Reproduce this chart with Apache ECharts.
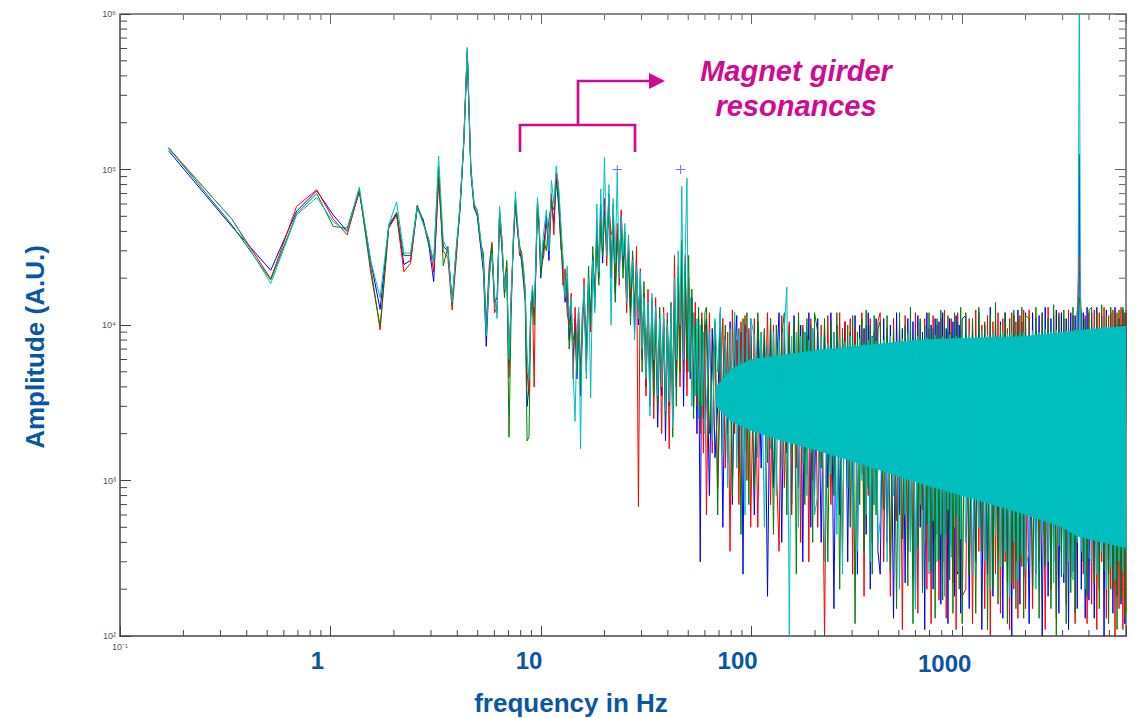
<!DOCTYPE html>
<html>
<head>
<meta charset="utf-8">
<title>Amplitude spectrum – magnet girder resonances</title>
<script src="https://cdn.jsdelivr.net/npm/echarts@6/dist/echarts.min.js"></script>
<style>
  html, body { margin: 0; padding: 0; background: #fff; }
  #chart { width: 1137px; height: 718px; }
</style>
</head>
<body>
<div id="chart"></div>
<script>
// frequency axis (Hz): FFT bins below 10 Hz, thinned out above
const freqLow = [0.17, 0.34, 0.52, 0.69, 0.86, 1.03, 1.2, 1.37, 1.55, 1.72, 1.89, 2.06, 2.23, 2.4, 2.58, 2.75, 2.92, 3.09, 3.26, 3.43,
  3.61, 3.78, 3.95, 4.12, 4.29, 4.46, 4.64, 4.81, 4.98, 5.15, 5.32, 5.49, 5.67, 5.84, 6.01, 6.18, 6.35, 6.52, 6.7, 6.87,
  7.04, 7.21, 7.38, 7.55, 7.73, 7.9, 8.07, 8.24, 8.41, 8.58, 8.76, 8.93, 9.1, 9.27, 9.44, 9.61, 9.79, 9.96]
const freqMid = [10.3, 10.6, 10.9, 11.2, 11.5, 11.8, 12.1, 12.4, 12.7, 13, 13.3, 13.6, 13.9, 14.2, 14.5, 14.8, 15.1, 15.4, 15.7, 16,
  16.4, 16.8, 17.2, 17.6, 18, 18.4, 18.8, 19.2, 19.6, 20, 20.5, 21, 21.5, 22, 22.5, 23, 23.5, 24, 24.5, 25, 25.5, 26,
  26.6, 27.2, 27.8, 28.4, 29, 29.6, 30.2, 30.8, 31.5, 32.2, 32.9, 33.6, 34.3, 35,
  35.8, 36.6, 37.4, 38.2, 39, 39.8, 40.6, 41.4, 42.2, 43, 43.9, 44.8, 45.7, 46.6, 47.5, 48.4, 49.3, 50.2, 51.1, 52,
  53, 54, 55, 56, 57, 58, 59, 60]
const freqHigh = [61, 63, 65, 67, 69, 71, 73, 75, 77, 79, 81, 83, 85, 87, 89, 91, 93, 95, 97, 99,
  103, 107, 111, 115, 119, 123, 127, 131, 135, 139, 143, 147, 151, 155, 159, 163, 167, 171, 175, 179, 183, 187, 191, 195, 199,
  206, 214, 222, 230, 238, 246, 254, 262, 270, 278, 286, 294, 302, 310, 318, 326, 334, 342, 350, 358, 366, 374, 382, 390, 398,
  408, 424, 440, 456, 472, 488, 504, 520, 536, 552, 568, 584, 600, 616, 632, 648, 664, 680, 696, 712, 728, 744, 760, 776, 792,
  808, 824, 840, 856, 872, 888, 904, 920, 936, 952, 968, 984, 1000,
  1040, 1080, 1120, 1160, 1200, 1240, 1280, 1320, 1360, 1400, 1440, 1480, 1520, 1560, 1600, 1640, 1680, 1720, 1760, 1800,
  1840, 1880, 1920, 1960, 2000,
  2080, 2160, 2240, 2320, 2400, 2480, 2560, 2640, 2720, 2800, 2880, 2960, 3040, 3120, 3200, 3280, 3360, 3440, 3520, 3600,
  3680, 3760, 3840, 3920, 4000,
  4120, 4240, 4360, 4480, 4600, 4720, 4840, 4960, 5080, 5200, 5320, 5440, 5560, 5680, 5800, 5920, 6000]

// amplitude (A.U.) per measurement, same three frequency ranges
const blueLow = [1.32e5, 4.3e4, 2.25e4, 5.4e4, 7.3e4, 5.1e4, 4e4, 7.2e4, 2.6e4, 1.26e4,
  4.3e4, 5.2e4, 2.45e4, 2.6e4, 5.6e4, 4.8e4, 3.4e4, 1.9e4, 9e4, 3.2e4,
  3e4, 1.4e4, 2.9e4, 5.6e4, 1.45e5, 5.6e5, 9.5e4, 5.7e4, 5e4, 3.3e4,
  2.2e4, 7.3e3, 2e4, 3e4, 1.4e4, 1.5e4, 4.8e4, 3.3e4, 1.6e4, 2.3e4,
  5.5e3, 1.4e4, 3.4e4, 6e4, 4e4, 3.1e4, 2.6e4, 2e4, 1.5e4, 3e3,
  4e3, 1.2e4, 1.7e4, 1.2e4, 2.2e4, 5.8e4, 4.4e4, 2e4]
const blueMid = [3.2e4, 5e4, 2.6e4, 6.5e4, 4.5e4, 8.8e4, 6e4, 3.5e4, 2.2e4, 1.4e4, 1.9e4, 8e3, 1.3e4, 6e3, 1.1e4, 4.5e3, 9e3, 3.5e3, 1e4, 1.6e4,
  7e3, 1.8e4, 1.2e4, 2.8e4, 1.5e4, 4.5e4, 2e4, 6e4, 2.5e4, 5.5e4,
  3e4, 7e4, 2e4, 5e4, 1.6e4, 4e4, 2.2e4, 4.8e4, 2.4e4, 3.5e4, 1.5e4, 3e4,
  1.2e4, 2.8e4, 9e3, 2.5e4, 1e4, 2e4, 6e3, 1.6e4, 4e3, 1.3e4, 3e3, 1.4e4, 5e3, 1.2e4,
  2.2e3, 1e4, 3.5e3, 1.1e4, 1.8e3, 9.5e3, 3e3, 1.2e4, 2.5e3, 1.5e4,
  4e3, 2e4, 6e3, 3e4, 3e3, 2.2e4, 5e3, 2e4, 4.5e3, 1.5e4,
  3e3, 1.2e4, 2e3, 1.1e4, 300, 1e4, 2.5e3, 9e3]
const blueHigh = [1.1e4, 800, 9.5e3, 1400, 3e3, 1.2e4, 500, 8.5e3, 2000, 1.05e4, 700, 6e3, 1.15e4, 1100, 9e3, 250, 1e4, 1800, 4e3, 1.1e4,
  600, 1.05e4, 1200, 9e3, 180, 1.1e4, 900, 5e3, 1.2e4, 400, 9.5e3, 1500, 1e4, 700, 1.15e4, 3e3, 900, 1e4, 300, 9e3, 1100, 1.2e4, 500, 9.5e3, 800,
  1.1e4, 400, 9.5e3, 900, 1.2e4, 150, 1e4, 600, 4e3, 1.05e4, 300, 9e3, 800, 1.15e4, 250, 1e4, 1100, 9.5e3, 450, 1.2e4, 200, 8.5e3, 700, 1.1e4, 350,
  250, 1.1e4, 400, 1e4, 130, 1.2e4, 600, 9.5e3, 220, 1.1e4, 350, 1.05e4, 150, 1.15e4, 500, 9e3, 110, 1.2e4, 300, 1e4, 200, 1.1e4, 450, 1.05e4, 160,
  1.2e4, 280, 9.5e3, 120, 1.1e4, 380, 1.05e4, 180, 1.15e4, 250, 1e4, 140, 1.1e4,
  1.15e4, 150, 1.05e4, 300, 1.2e4, 110, 1e4, 250, 1.3e4, 180, 1.1e4, 400, 1.05e4, 130, 1.2e4, 220, 1.1e4, 100, 1.15e4, 300,
  1.25e4, 160, 1.05e4, 240, 1.2e4,
  120, 1.2e4, 250, 1.15e4, 100, 1.3e4, 180, 1.1e4, 300, 1.25e4, 140, 1.2e4, 220, 1.1e4, 110, 1.2e4, 260, 1.15e4, 150, 1.25e5,
  200, 1.2e4, 130, 1.3e4, 170,
  1.2e4, 130, 1.3e4, 200, 1.15e4, 100, 1.25e4, 250, 1.2e4, 140, 1.3e4, 180, 1.1e4, 160, 1.25e4, 120, 1.2e4]

const redLow = [1.38e5, 4.8e4, 1.98e4, 5.8e4, 7.4e4, 4.8e4, 3.8e4, 7.3e4, 2.4e4, 9.3e3,
  4.2e4, 5.1e4, 2.2e4, 2.5e4, 5.8e4, 4.6e4, 3.6e4, 2.2e4, 8.5e4, 3e4,
  2.7e4, 1.25e4, 2.6e4, 5.9e4, 1.5e5, 5.9e5, 1.05e5, 5.9e4, 5.4e4, 3.6e4,
  2.6e4, 1e4, 2.4e4, 3.4e4, 1.2e4, 1.3e4, 5.2e4, 3e4, 1.8e4, 2.5e4,
  4.6e3, 1.6e4, 3.2e4, 5.8e4, 4.4e4, 2.8e4, 3e4, 2.3e4, 1.7e4, 5e3,
  3.6e3, 1.4e4, 1.5e4, 4e3, 2.6e4, 6.2e4, 4e4, 2.3e4]
const redMid = [2.8e4, 4.5e4, 3.5e4, 7e4, 3.8e4, 9.5e4, 7.5e4, 4.2e4, 1.8e4, 2.3e4, 1.2e4, 1e4, 1.6e4, 4.5e3, 1.3e4, 7e3, 1.2e4, 5.5e3, 8e3, 2e4,
  5e3, 1.5e4, 9e3, 2.2e4, 1.8e4, 3.8e4, 2.6e4, 5e4, 3e4, 6.5e4,
  2.4e4, 6e4, 3.8e4, 4.2e4, 2e4, 4.5e4, 1.8e4, 5.5e4, 3e4, 2.8e4, 1.2e4, 3.6e4,
  1.5e4, 2.4e4, 1.1e4, 3.2e4, 680, 2.3e4, 8e3, 1.4e4, 3.5e3, 1.7e4, 5e3, 1.1e4, 2.5e3, 1.5e4,
  4e3, 9e3, 2e3, 1.3e4, 3e3, 1.2e4, 1.6e3, 1e4, 3.5e3, 2.8e4,
  5e3, 1.6e4, 4e3, 2.5e4, 5e3, 2.8e4, 3.5e3, 1.8e4, 6e3, 1.2e4,
  4e3, 1.4e4, 3e3, 9e3, 2e3, 1.2e4, 1.5e3, 1e4]
const redHigh = [600, 1.2e4, 1500, 1e4, 900, 4e3, 1.1e4, 1200, 9e3, 350, 1.25e4, 2000, 8e3, 700, 1.05e4, 3e3, 1.15e4, 1000, 9.5e3, 500,
  1.1e4, 500, 9e3, 2e3, 1.2e4, 700, 1e4, 1300, 350, 1.15e4, 900, 4e3, 1.05e4, 600, 9.5e3, 1200, 1.2e4, 400, 1e4, 1500, 8.5e3, 300, 1.1e4, 1000, 9e3,
  500, 1e4, 100, 1.15e4, 700, 9e3, 2e3, 1.2e4, 350, 1.05e4, 900, 1.1e4, 250, 9.5e3, 600, 3e3, 1.2e4, 180, 1e4, 800, 1.1e4, 400, 9e3, 1200, 1.05e4,
  1.2e4, 300, 9.5e3, 180, 1.1e4, 550, 1e4, 110, 1.15e4, 350, 9e3, 240, 1.2e4, 140, 1.05e4, 650, 1.1e4, 200, 9.5e3, 120, 1.15e4, 420, 1e4, 170, 1.1e4,
  300, 1.25e4, 130, 9e3, 500, 1.1e4, 220, 1.05e4, 110, 1.2e4, 320, 9.5e3, 180,
  200, 1.1e4, 120, 1.25e4, 350, 1e4, 150, 1.15e4, 100, 1.05e4, 250, 1.2e4, 140, 1.1e4, 300, 9.5e3, 110, 1.2e4, 200, 1.05e4,
  130, 1.15e4, 280, 1.25e4, 150,
  1.25e4, 150, 1.1e4, 300, 1.2e4, 110, 1.3e4, 200, 1.15e4, 130, 1.2e4, 350, 1.1e4, 160, 1.25e4, 240, 1.15e4, 120, 1.2e4, 2.8e4,
  1.1e4, 250, 1.15e4, 120, 1.2e4,
  160, 1.25e4, 110, 1.2e4, 300, 1.3e4, 130, 1.15e4, 200, 1.25e4, 100, 1.2e4, 150, 1.3e4, 110, 1.2e4, 140]

const greenLow = [1.38e5, 4.4e4, 1.95e4, 5.2e4, 7e4, 4.3e4, 4.2e4, 7.5e4, 2.2e4, 9.8e3,
  4.4e4, 5.3e4, 2.8e4, 2.8e4, 5.9e4, 4.7e4, 3.3e4, 2.6e4, 1.05e5, 2.4e4,
  3.2e4, 1.35e4, 3e4, 5.5e4, 1.42e5, 5.7e5, 9.8e4, 5.6e4, 5.2e4, 3.4e4,
  2.9e4, 9e3, 2.2e4, 3.3e4, 1.5e4, 1.2e4, 5.5e4, 3.6e4, 1.5e4, 2.6e4,
  1.9e3, 1.2e4, 3.6e4, 6.4e4, 4.2e4, 3.3e4, 2.8e4, 1.9e4, 1.4e4, 1.8e3,
  1.9e3, 1.1e4, 1.6e4, 1e4, 2.4e4, 5.5e4, 4.6e4, 2.1e4]
const greenMid = [3.5e4, 3e4, 4.8e4, 6e4, 5.5e4, 8e4, 7e4, 3.2e4, 2.5e4, 1.6e4, 2e4, 7e3, 1.1e4, 8e3, 9e3, 5e3, 1e4, 4e3, 1.2e4, 1.4e4,
  6e3, 2.4e4, 1e4, 3.2e4, 1.3e4, 3.5e4, 1.8e4, 4.5e4, 2.8e4, 5e4,
  3.5e4, 5.5e4, 2.2e4, 6e4, 1.4e4, 3.5e4, 2.6e4, 4.2e4, 2e4, 4e4, 1.8e4, 2.6e4,
  1e4, 3e4, 1.3e4, 2.2e4, 1.2e4, 1.8e4, 5e3, 1.9e4, 6e3, 1.2e4, 4e3, 1.5e4, 3.5e3, 1e4,
  3e3, 1.3e4, 5e3, 9e3, 2.5e3, 1.1e4, 4e3, 1.4e4, 1.9e3, 1.3e4,
  3e3, 2.4e4, 5e3, 3.5e4, 8e3, 2.5e4, 6e3, 2.8e4, 5e3, 1.7e4,
  2.5e3, 1e4, 3.5e3, 1.3e4, 2.5e3, 1.1e4, 3e3, 1.2e4]
const greenHigh = [1.3e4, 2000, 5e3, 1.05e4, 600, 1.15e4, 3e3, 1e4, 1300, 9e3, 800, 1.2e4, 2500, 9.5e3, 450, 1.1e4, 1500, 1.2e4, 700, 8.5e3,
  900, 1.2e4, 3e3, 9.5e3, 1300, 1.1e4, 450, 1e4, 2e3, 8.5e3, 1.2e4, 600, 9e3, 1500, 1.05e4, 250, 1.15e4, 1800, 9.5e3, 700, 1.1e4, 2.5e3, 1e4, 400, 1.2e4,
  9e3, 1200, 1.1e4, 300, 1.05e4, 800, 1.2e4, 200, 9.5e3, 1500, 1e4, 500, 1.15e4, 120, 9e3, 700, 1.1e4, 350, 1.25e4, 900, 1e4, 250, 1.15e4, 600, 9.5e3,
  1.05e4, 650, 1.15e4, 260, 9.5e3, 150, 1.2e4, 420, 1e4, 210, 1.3e4, 120, 9e3, 370, 1.1e4, 190, 1e4, 520, 1.2e4, 260, 9.5e3, 130, 1.1e4, 310, 1.25e4,
  170, 1e4, 450, 1.15e4, 230, 9e3, 140, 1.2e4, 600, 1.05e4, 200, 1.3e4, 120,
  1.2e4, 250, 1.1e4, 140, 1.3e4, 350, 1.05e4, 110, 1.15e4, 200, 1.4e4, 160, 1e4, 280, 1.2e4, 120, 1.1e4, 220, 1.25e4, 150,
  1.1e4, 300, 1.3e4, 130, 1.15e4,
  1.1e4, 200, 1.3e4, 130, 1.2e4, 280, 1.1e4, 150, 1.35e4, 100, 1.15e4, 240, 1.25e4, 120, 1.1e4, 190, 1.3e4, 140, 1.2e4, 1.5e4,
  1.2e4, 300, 1.1e4, 180, 1.25e4,
  1.3e4, 220, 1.2e4, 150, 1.35e4, 260, 1.15e4, 120, 1.3e4, 200, 1.2e4, 110, 1.25e4, 170, 1.3e4, 130, 1.25e4]

const cyanLow = [1.36e5, 4.8e4, 1.85e4, 5.1e4, 6.6e4, 4.6e4, 4e4, 7.7e4, 2.6e4, 1.5e4,
  4.4e4, 6.2e4, 2.9e4, 2.9e4, 5.7e4, 4.5e4, 3.6e4, 2.5e4, 1.22e5, 3.5e4,
  3e4, 1.4e4, 3.1e4, 6e4, 1.5e5, 6.1e5, 1e5, 6e4, 5.5e4, 3.7e4,
  2.5e4, 8.5e3, 2.1e4, 2.9e4, 1.6e4, 1.1e4, 5.8e4, 3.5e4, 1.7e4, 2.2e4,
  6e3, 1.5e4, 3.5e4, 7.2e4, 4.6e4, 3e4, 2.9e4, 2.4e4, 1.6e4, 6.5e3,
  4.5e3, 1.3e4, 1.8e4, 1.3e4, 2.5e4, 6.6e4, 4.8e4, 2.4e4]
const cyanMid = [4e4, 5.5e4, 3e4, 8.5e4, 6e4, 1.05e5, 8e4, 4.6e4, 2.8e4, 1.5e4, 2.4e4, 1.1e4, 1.5e4, 5e3, 2.4e3, 9e3, 1.3e4, 1.6e3, 1.1e4, 1.8e4,
  4.5e3, 2e4, 3.4e3, 2.6e4, 1.2e4, 6e4, 2.2e4, 7.5e4, 3.2e4, 1.2e5,
  2.8e4, 8e4, 1e4, 6.5e4, 2.5e4, 9.5e4, 2e4, 5e4, 2.8e4, 4.5e4, 1.4e4, 3.8e4,
  1.8e4, 2.6e4, 8e3, 2.4e4, 1.1e4, 2.2e4, 7e3, 1.5e4, 4.5e3, 1.4e4, 2.6e3, 1.6e4, 6e3, 1.3e4,
  3.5e3, 1.1e4, 4e3, 1.2e4, 2.8e3, 1e4, 3.2e3, 1.3e4, 2.2e3, 2e4,
  6e3, 3e4, 1e4, 7.8e4, 6e3, 3e4, 8.8e4, 5e3, 1.5e4, 3e3,
  1.2e4, 3.5e3, 1.1e4, 2.5e3, 1e4, 3e3, 9e3, 2e3]
const cyanHigh = [3000, 9000, 1800, 1.1e4, 5000, 1.3e4, 1500, 8000, 900, 9500, 2500, 1.2e4, 1200, 8500, 3500, 1e4, 600, 9000, 2000, 1.1e4,
  8500, 1400, 9000, 500, 7500, 1600, 9000, 800, 8000, 1200, 9500, 1.75e4, 100, 8500, 2000, 9000, 500, 8500, 1300, 9000, 800, 8000, 1500, 9500, 600,
  800, 8500, 300, 7600, 1100, 9000, 450, 8200, 250, 7800, 900, 8500, 500, 7500, 350, 8200, 1000, 7600, 600, 8000, 300, 8400, 700, 7900, 400,
  550, 8000, 300, 8500, 800, 7800, 200, 8200, 600, 8800, 350, 8000, 150, 8500, 700, 7800, 400, 8300, 250, 8000, 550, 8600, 300, 8200, 450,
  8400, 180, 8100, 650, 8700, 320, 8200, 500, 8500, 260, 8300, 420, 8600,
  400, 8800, 250, 8400, 500, 9000, 300, 8600, 200, 8800, 450, 8400, 280, 9000, 350, 8700, 180, 8900, 400, 8600,
  230, 8800, 330, 9000, 270,
  350, 9200, 200, 9000, 450, 9400, 300, 9100, 220, 9300, 380, 9000, 250, 9200, 300, 9100, 230, 9300, 400, 2e6,
  350, 9300, 200, 9400, 320,
  300, 9600, 250, 9500, 350, 9800, 200, 9700, 280, 9600, 230, 9900, 300, 9700, 260, 9800, 350]

// where the cyan trace oscillates so densely that it reads as a solid band
const bandFreq = [68, 80, 100, 140, 210, 320, 630, 1000, 1900, 3000, 3500, 6000]
const bandLow = [3000, 2400, 2100, 1800, 1550, 1300, 960, 800, 620, 500, 440, 370]
const bandHigh = [4000, 5200, 6000, 6400, 6900, 7300, 8000, 8200, 8400, 8900, 9200, 9800]

// blue "+" markers above the girder peaks
const markFreq = [23, 46]
const markAmp = [1e5, 1e5]

const MINOR = [2, 3, 4, 5, 6, 7, 8, 9]
const X_MIN = 0.1
const X_MAX = 6000
const TITLE_BLUE = '#0a56a5'
const MAGENTA = '#d10a93'
const CYAN_FILL = '#00bebe'
const FONT = '"Liberation Sans", Arial, sans-serif'

const freq = freqLow.concat(freqMid, freqHigh)
const toPairs = (xs, ys) => xs.map((x, i) => [x, ys[i]])

const SUP = { '-': '⁻', '0': '⁰', '1': '¹', '2': '²', '3': '³', '4': '⁴', '5': '⁵', '6': '⁶', '7': '⁷', '8': '⁸', '9': '⁹' }
function powLabel(v) {
  const e = Math.round(Math.log10(v))
  return '10' + String(e).split('').map((c) => SUP[c]).join('')
}
function isDecade(v) {
  const e = Math.round(Math.log10(v))
  return Math.abs(v / Math.pow(10, e) - 1) < 1e-6
}

function trace(name, color, amps, z) {
  return {
    name,
    type: 'line',
    z,
    data: toPairs(freq, amps),
    symbol: 'none',
    lineStyle: { color, width: 1 },
    itemStyle: { color },
    clip: true,
    silent: true,
  }
}

const bigLabel = { fontSize: 24, fontWeight: 'bold', color: TITLE_BLUE, fontFamily: FONT, lineHeight: 24 }

const chart = echarts.init(document.getElementById('chart'), null, { renderer: 'svg' })

chart.setOption({
  animation: false,
  backgroundColor: '#fff',
  textStyle: { fontFamily: FONT },
  grid: { left: 120, right: 11, top: 14, bottom: 82, containLabel: false, outerBoundsMode: 'none' },
  xAxis: [
    {
      type: 'log',
      logBase: 10,
      min: X_MIN,
      max: X_MAX,
      position: 'bottom',
      axisLine: { lineStyle: { color: '#444', width: 1.5 } },
      axisTick: { inside: true, length: 10, lineStyle: { color: '#444' } },
      splitLine: { show: false },
      axisLabel: {
        margin: 6,
        formatter: (v) => {
          if (!isDecade(v)) return ''
          const e = Math.round(Math.log10(v))
          if (e < 0) return '{s|' + powLabel(v) + '}'
          return '{d' + e + '|' + Math.round(Math.pow(10, e)) + '}'
        },
        rich: {
          s: { fontSize: 9, color: '#555', fontFamily: FONT },
          d0: Object.assign({ padding: [12, 26, 0, 0] }, bigLabel),
          d1: Object.assign({ padding: [12, 24, 0, 0] }, bigLabel),
          d2: Object.assign({ padding: [12, 28, 0, 0] }, bigLabel),
          d3: Object.assign({ padding: [18, 35, 0, 0] }, bigLabel),
        },
      },
    },
    {
      type: 'log',
      logBase: 10,
      min: X_MIN,
      max: X_MAX,
      position: 'top',
      axisLine: { lineStyle: { color: '#8a8a8a', width: 2 } },
      axisTick: { inside: true, length: 10, lineStyle: { color: '#666' } },
      axisLabel: { show: false },
      splitLine: { show: false },
    },
  ],
  yAxis: [
    {
      type: 'log',
      logBase: 10,
      min: 100,
      max: 1e6,
      position: 'left',
      axisLine: { lineStyle: { color: '#444', width: 1.5 } },
      axisTick: { inside: true, length: 11, lineStyle: { color: '#444' } },
      splitLine: { show: false },
      axisLabel: { margin: 4, fontSize: 9, color: '#555', formatter: (v) => (isDecade(v) ? powLabel(v) : '') },
    },
    {
      type: 'log',
      logBase: 10,
      min: 100,
      max: 1e6,
      position: 'right',
      axisLine: { lineStyle: { color: '#8a8a8a', width: 2 } },
      axisTick: { inside: true, length: 11, lineStyle: { color: '#666' } },
      axisLabel: { show: false },
      splitLine: { show: false },
    },
  ],
  series: [
    trace('blue', '#0000ff', blueLow.concat(blueMid, blueHigh), 2),
    trace('red', '#ff0000', redLow.concat(redMid, redHigh), 2),
    trace('green', '#008000', greenLow.concat(greenMid, greenHigh), 2),
    {
      // solid band between the lower and upper envelope of the dense cyan trace
      name: 'band',
      type: 'custom',
      z: 3,
      data: bandFreq.map((f, i) => [f, bandLow[i], bandHigh[i]]),
      encode: { x: 0, y: [1, 2] },
      clip: true,
      silent: true,
      renderItem: (params, api) => {
        const i = params.dataIndex
        if (i >= bandFreq.length - 1) return null
        const points = [
          api.coord([bandFreq[i], bandLow[i]]),
          api.coord([bandFreq[i + 1], bandLow[i + 1]]),
          api.coord([bandFreq[i + 1], bandHigh[i + 1]]),
          api.coord([bandFreq[i], bandHigh[i]]),
        ]
        return { type: 'polygon', shape: { points }, style: { fill: CYAN_FILL, stroke: CYAN_FILL, lineWidth: 0.8 } }
      },
    },
    trace('cyan', '#00bfbf', cyanLow.concat(cyanMid, cyanHigh), 4),
    {
      name: 'marks',
      type: 'scatter',
      z: 5,
      data: toPairs(markFreq, markAmp),
      symbol: 'path://M4,0H5V9H4Z M0,4H9V5H0Z',
      symbolSize: 9,
      itemStyle: { color: '#4a4aff' },
      silent: true,
    },
  ],
})

// minor ticks (2..9 in each decade) on all four sides, placed through the axes
const plotL = 120
const plotR = 1137 - 11
const plotT = 14
const plotB = 718 - 82
const graphics = []
const tick = (x1, y1, x2, y2, stroke) =>
  graphics.push({ type: 'line', silent: true, shape: { x1, y1, x2, y2 }, style: { stroke, lineWidth: 1 } })

;[0.1, 1, 10, 100, 1000].forEach((d) => {
  MINOR.forEach((m) => {
    const v = d * m
    if (v >= X_MAX) return
    const px = chart.convertToPixel({ xAxisIndex: 0 }, v)
    tick(px, plotB, px, plotB - 6, '#444')
    tick(px, plotT, px, plotT + 6, '#666')
  })
})
;[100, 1e3, 1e4, 1e5].forEach((d) => {
  MINOR.forEach((m) => {
    const py = chart.convertToPixel({ yAxisIndex: 0 }, d * m)
    tick(plotL, py, plotL + 7, py, '#444')
    tick(plotR, py, plotR - 7, py, '#666')
  })
})

// annotation: bracket over the girder peaks with an arrow to the label
const magentaLine = { stroke: MAGENTA, lineWidth: 2.7, fill: null }
graphics.push(
  { type: 'polyline', silent: true, shape: { points: [[520, 152], [520, 125], [635, 125], [635, 152]] }, style: magentaLine },
  { type: 'polyline', silent: true, shape: { points: [[578, 125], [578, 81], [652, 81]] }, style: magentaLine },
  { type: 'polygon', silent: true, shape: { points: [[649, 73], [665, 81], [649, 89]] }, style: { fill: MAGENTA } },
  {
    type: 'text',
    silent: true,
    x: 796,
    y: 88,
    style: {
      text: 'Magnet girder\nresonances',
      fill: MAGENTA,
      font: 'italic bold 29px ' + FONT,
      lineHeight: 35,
      align: 'center',
      verticalAlign: 'middle',
    },
  },
  {
    type: 'text',
    silent: true,
    x: 571,
    y: 703,
    style: {
      text: 'frequency in Hz',
      fill: TITLE_BLUE,
      font: 'bold 26px ' + FONT,
      align: 'center',
      verticalAlign: 'middle',
    },
  },
  {
    type: 'text',
    silent: true,
    x: 35,
    y: 347,
    rotation: Math.PI / 2,
    style: {
      text: 'Amplitude (A.U.)',
      fill: TITLE_BLUE,
      font: 'bold 26px ' + FONT,
      align: 'center',
      verticalAlign: 'middle',
    },
  }
)

chart.setOption({ graphic: graphics })
</script>
</body>
</html>
